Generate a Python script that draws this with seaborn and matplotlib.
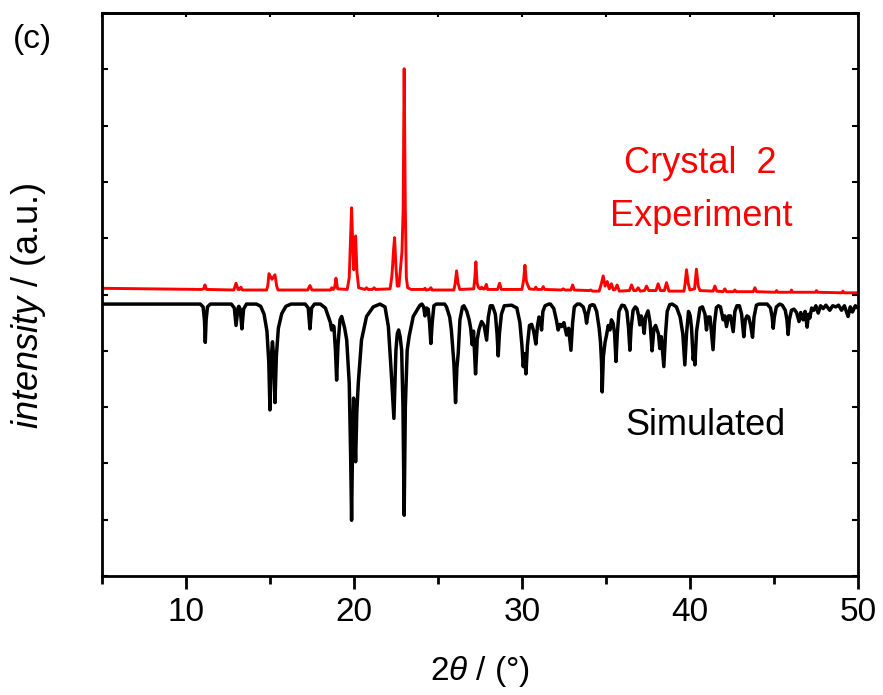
import numpy as np
import pandas as pd
import matplotlib
matplotlib.use("Agg")
import matplotlib.pyplot as plt
from matplotlib.ticker import MultipleLocator
import seaborn as sns

exp_pts = [
    (5.0, 5.11), (8.0, 5.10), (10.9, 5.09), (11.05, 5.10), (11.13, 5.17), (11.22, 5.09),
    (12.85, 5.08), (12.98, 5.20), (13.1, 5.09), (13.18, 5.09), (13.27, 5.13), (13.36, 5.08),
    (14.8, 5.08), (14.87, 5.15), (14.94, 5.37), (15.12, 5.27), (15.30, 5.35), (15.40, 5.15),
    (15.48, 5.08), (17.25, 5.08), (17.38, 5.16), (17.5, 5.08),
    (18.6, 5.08), (18.68, 5.12), (18.76, 5.09), (18.85, 5.12), (18.93, 5.29), (19.03, 5.10),
    (19.6, 5.09), (19.72, 5.30), (19.8, 6.00), (19.86, 6.54), (19.94, 5.80), (19.99, 5.44),
    (20.05, 5.90), (20.10, 6.04), (20.18, 5.40), (20.28, 5.12), (20.65, 5.09), (20.75, 5.12),
    (20.85, 5.09), (21.1, 5.09), (21.2, 5.12), (21.3, 5.09),
    (22.15, 5.10), (22.25, 5.30), (22.3, 5.50), (22.36, 5.80), (22.42, 6.01), (22.5, 5.50),
    (22.58, 5.15), (22.68, 5.15), (22.78, 5.50), (22.86, 5.76), (22.93, 6.50), (22.99, 9.01),
    (23.06, 6.50), (23.12, 5.30), (23.2, 5.12), (23.4, 5.09),
    (24.15, 5.09), (24.23, 5.11), (24.3, 5.08), (24.5, 5.09), (24.58, 5.12), (24.66, 5.08),
    (25.95, 5.08), (26.03, 5.20), (26.11, 5.42), (26.2, 5.20), (26.3, 5.09),
    (27.13, 5.10), (27.2, 5.30), (27.26, 5.58), (27.33, 5.20), (27.42, 5.12), (27.52, 5.10),
    (27.6, 5.13), (27.68, 5.10), (27.78, 5.10), (27.88, 5.18), (27.96, 5.09),
    (28.55, 5.09), (28.67, 5.20), (28.78, 5.09),
    (30.0, 5.09), (30.1, 5.25), (30.18, 5.52), (30.26, 5.25), (30.33, 5.18), (30.45, 5.10),
    (30.75, 5.09), (30.83, 5.13), (30.91, 5.09), (31.18, 5.09), (31.27, 5.14), (31.36, 5.09),
    (32.35, 5.08), (32.46, 5.10), (32.56, 5.08), (32.92, 5.08), (33.02, 5.17), (33.12, 5.08),
    (34.0, 5.07), (34.1, 5.08), (34.2, 5.06),
    (34.6, 5.06), (34.72, 5.18), (34.84, 5.33), (34.95, 5.15), (35.08, 5.23), (35.2, 5.10),
    (35.33, 5.19), (35.45, 5.08), (35.55, 5.09), (35.67, 5.17), (35.8, 5.06),
    (36.4, 5.07), (36.53, 5.17), (36.66, 5.07), (36.8, 5.07), (36.92, 5.12), (37.05, 5.06),
    (37.3, 5.07), (37.42, 5.15), (37.55, 5.07), (37.98, 5.07), (38.11, 5.19), (38.25, 5.07),
    (38.48, 5.07), (38.61, 5.21), (38.75, 5.06),
    (39.65, 5.06), (39.72, 5.20), (39.80, 5.44), (39.9, 5.20), (40.0, 5.08), (40.28, 5.10),
    (40.39, 5.45), (40.5, 5.15), (40.6, 5.07), (41.38, 5.06), (41.49, 5.15), (41.6, 5.06),
    (41.98, 5.05), (42.08, 5.10), (42.18, 5.05), (42.6, 5.05), (42.68, 5.08), (42.76, 5.05),
    (43.77, 5.05), (43.87, 5.12), (43.97, 5.05), (45.1, 5.04), (45.16, 5.07), (45.24, 5.04),
    (46.0, 5.04), (46.05, 5.08), (46.12, 5.04), (47.48, 5.04), (47.54, 5.07), (47.6, 5.04),
    (49.05, 5.03), (49.11, 5.06), (49.17, 5.03), (50.0, 5.03),
]

# simulated pattern (black, plotted downwards), vertices
sim_pts = [
    (5.0, 4.83), (10.85, 4.83), (11.02, 4.78), (11.10, 4.55), (11.15, 4.15), (11.20, 4.55),
    (11.28, 4.78), (11.45, 4.83),
    (12.70, 4.83), (12.88, 4.76), (12.98, 4.45), (13.10, 4.76), (13.15, 4.79), (13.23, 4.74),
    (13.33, 4.39), (13.43, 4.74), (13.60, 4.83),
    (14.20, 4.83), (14.45, 4.79), (14.65, 4.65), (14.82, 4.35), (14.93, 3.80), (15.0, 2.95),
    (15.08, 3.90), (15.15, 4.16), (15.22, 3.90), (15.30, 3.08), (15.38, 3.90), (15.50, 4.40),
    (15.70, 4.66), (15.95, 4.79), (16.25, 4.83),
    (17.10, 4.83), (17.28, 4.76), (17.38, 4.39), (17.48, 4.76), (17.65, 4.83),
    (18.0, 4.83), (18.3, 4.76), (18.47, 4.61), (18.60, 4.50), (18.67, 4.37), (18.74, 4.45),
    (18.81, 4.43), (18.90, 4.00), (18.97, 3.48), (19.05, 4.10), (19.17, 4.55), (19.27, 4.61),
    (19.45, 4.40), (19.57, 4.19), (19.72, 3.43), (19.80, 2.20), (19.86, 0.99), (19.92, 2.40),
    (19.98, 3.16), (20.04, 2.60), (20.10, 2.03), (20.17, 2.90), (20.26, 3.43), (20.45, 4.19),
    (20.75, 4.61), (21.15, 4.78), (21.55, 4.83),
    (21.85, 4.78), (22.05, 4.43), (22.20, 3.72), (22.30, 3.20), (22.38, 2.80), (22.44, 3.40),
    (22.50, 4.01), (22.58, 4.30), (22.66, 4.37), (22.75, 4.25), (22.84, 4.01), (22.92, 3.00),
    (22.99, 1.08), (23.06, 3.00), (23.17, 4.01), (23.29, 4.26), (23.53, 4.61), (23.93, 4.81),
    (24.05, 4.83), (24.15, 4.78), (24.23, 4.62), (24.32, 4.76), (24.42, 4.74), (24.50, 4.50),
    (24.58, 4.13), (24.66, 4.50), (24.76, 4.80), (24.9, 4.83),
    (25.40, 4.83), (25.51, 4.78), (25.70, 4.60), (25.80, 4.37), (25.95, 3.78), (26.05, 3.08),
    (26.13, 3.70), (26.21, 3.96), (26.31, 4.55), (26.46, 4.78),
    (26.55, 4.80), (26.72, 4.70), (26.86, 4.55), (26.95, 4.40), (27.04, 4.11), (27.12, 4.35),
    (27.24, 3.59), (27.34, 4.20), (27.44, 4.37), (27.52, 4.45), (27.6, 4.52), (27.75, 4.45),
    (27.9, 4.19), (28.0, 4.60), (28.12, 4.80), (28.25, 4.80),
    (28.42, 4.65), (28.52, 4.30), (28.59, 3.91), (28.66, 4.30), (28.78, 4.65), (28.95, 4.80),
    (29.39, 4.81), (29.70, 4.76), (29.88, 4.50), (30.0, 4.10), (30.08, 3.72), (30.15, 3.95),
    (30.24, 3.59), (30.33, 4.10), (30.45, 4.45), (30.58, 4.47), (30.70, 4.35), (30.83, 4.12),
    (30.93, 4.45), (31.02, 4.60), (31.10, 4.55), (31.17, 4.37), (31.25, 4.70), (31.38, 4.80),
    (31.6, 4.83),
    (31.7, 4.83), (31.9, 4.75), (32.05, 4.55), (32.16, 4.37), (32.26, 4.47), (32.36, 4.43),
    (32.5, 4.50), (32.66, 4.28), (32.78, 4.40), (32.92, 4.01), (33.02, 4.50), (33.12, 4.78),
    (33.3, 4.83),
    (33.45, 4.83), (33.65, 4.78), (33.78, 4.65), (33.85, 4.49), (33.93, 4.65), (34.05, 4.80),
    (34.2, 4.82),
    (34.30, 4.81), (34.45, 4.70), (34.6, 4.40), (34.68, 4.15), (34.74, 3.80), (34.78, 3.27),
    (34.85, 3.90), (34.95, 4.15), (35.04, 4.28), (35.14, 4.45), (35.24, 4.37), (35.33, 4.55),
    (35.43, 4.49), (35.52, 4.30), (35.6, 3.81), (35.68, 4.30), (35.78, 4.70), (35.95, 4.81),
    (36.1, 4.80), (36.25, 4.70), (36.35, 4.40), (36.43, 4.01), (36.50, 4.40), (36.62, 4.72),
    (36.75, 4.78), (36.85, 4.75), (36.95, 4.62), (37.02, 4.46), (37.10, 4.62), (37.18, 4.55),
    (37.28, 4.31), (37.36, 4.60), (37.51, 4.71),
    (37.63, 4.50), (37.75, 4.00), (37.86, 4.40), (37.96, 4.45), (38.05, 4.37), (38.13, 4.30),
    (38.21, 4.04), (38.3, 4.25), (38.45, 3.72), (38.55, 4.30), (38.65, 4.70), (38.8, 4.82),
    (38.95, 4.83), (39.2, 4.78), (39.42, 4.60), (39.58, 4.30), (39.70, 3.75), (39.80, 4.30),
    (39.92, 4.70), (40.02, 4.62), (40.1, 4.40), (40.2, 3.84), (40.25, 4.00), (40.30, 3.75),
    (40.4, 4.35), (40.6, 4.76), (40.75, 4.78), (40.9, 4.65), (40.99, 4.37), (41.08, 4.60),
    (41.2, 4.60), (41.38, 4.02), (41.47, 4.50), (41.58, 4.77), (41.7, 4.80),
    (41.82, 4.78), (41.98, 4.55), (42.08, 4.62), (42.18, 4.43), (42.3, 4.62), (42.42, 4.62),
    (42.58, 4.34), (42.68, 4.70), (42.8, 4.80),
    (42.95, 4.80), (43.08, 4.65), (43.21, 4.25), (43.30, 4.55), (43.40, 4.62), (43.5, 4.60),
    (43.62, 4.45), (43.73, 4.24), (43.82, 4.60), (43.96, 4.81), (44.1, 4.83),
    (44.6, 4.83), (44.8, 4.76), (44.9, 4.60), (44.96, 4.40), (45.03, 4.60), (45.15, 4.78),
    (45.35, 4.83), (45.5, 4.81), (45.68, 4.72), (45.78, 4.55), (45.85, 4.29), (45.92, 4.55),
    (46.05, 4.72), (46.2, 4.74),
    (46.35, 4.68), (46.5, 4.52), (46.6, 4.68), (46.74, 4.55), (46.86, 4.70), (46.98, 4.42),
    (47.06, 4.65), (47.14, 4.58), (47.25, 4.76), (47.38, 4.72), (47.5, 4.80), (47.64, 4.67),
    (47.78, 4.80), (47.94, 4.75), (48.1, 4.81), (48.33, 4.72), (48.5, 4.80), (48.69, 4.78),
    (48.85, 4.81), (49.03, 4.72), (49.2, 4.80), (49.42, 4.61), (49.55, 4.78), (49.68, 4.69),
    (49.85, 4.80), (50.0, 4.76),
]

exp_df = pd.DataFrame(exp_pts, columns=["two_theta", "intensity"])
sim_df = pd.DataFrame(sim_pts, columns=["two_theta", "intensity"])

sns.set_style("ticks")
plt.rcParams["font.family"] = ["Liberation Sans", "DejaVu Sans"]
plt.rcParams["mathtext.fontset"] = "custom"
plt.rcParams["mathtext.it"] = "Liberation Sans:italic"
plt.rcParams["mathtext.rm"] = "Liberation Sans"
plt.rcParams["text.color"] = "black"
plt.rcParams["axes.labelcolor"] = "black"
plt.rcParams["xtick.color"] = "black"
plt.rcParams["ytick.color"] = "black"

fig = plt.figure(figsize=(8.83, 6.95), dpi=100)
ax = fig.add_axes([0.1155, 0.1712, 0.856, 0.8101])

sns.lineplot(data=sim_df, x="two_theta", y="intensity", color="black", linewidth=2.5,
             estimator=None, sort=False, ax=ax)
sns.lineplot(data=exp_df, x="two_theta", y="intensity", color="#ff0000", linewidth=2.1,
             estimator=None, sort=False, ax=ax)

ax.set_xlim(5, 50)
ax.set_ylim(0, 10)
ax.xaxis.set_major_locator(MultipleLocator(10))
ax.xaxis.set_minor_locator(MultipleLocator(5))
ax.yaxis.set_major_locator(MultipleLocator(1))
ax.set_xticks([10, 20, 30, 40, 50])

for sp in ax.spines.values():
    sp.set_visible(True)
    sp.set_linewidth(2.0)
    sp.set_color("black")

ax.tick_params(axis="x", which="major", direction="out", length=9, width=2,
               labelsize=24, pad=6, top=False, colors="black")
ax.tick_params(axis="x", which="minor", direction="out", length=6, width=2, top=False)
ax.tick_params(axis="y", which="major", direction="in", length=4, width=1.5,
               left=True, right=True, labelleft=False)

top = ax.secondary_xaxis("top")
top.xaxis.set_major_locator(MultipleLocator(5))
top.tick_params(direction="in", length=3, width=1.5, labeltop=False, colors="black")
top.spines["top"].set_linewidth(2.0)

ax.set_xlabel(r"$\it{2\theta}$ / (°)", fontsize=24, labelpad=19, color="black")
ax.set_ylabel(r"$\it{intensity}$ / (a.u.)", fontsize=26, color="black")
ax.yaxis.set_label_coords(-0.072, 0.48)

ax.text(40.6, 7.16, "Crystal  2", color="#ff0000", fontsize=26, ha="center", va="baseline")
ax.text(40.65, 6.22, "Experiment", color="#ff0000", fontsize=26, ha="center", va="baseline")
ax.text(40.95, 2.50, "Simulated", color="black", fontsize=26, ha="center", va="baseline")

fig.text(0.0147, 0.966, "(c)", fontsize=24, ha="left", va="top", color="black")

fig.savefig("out.png", dpi=100)
